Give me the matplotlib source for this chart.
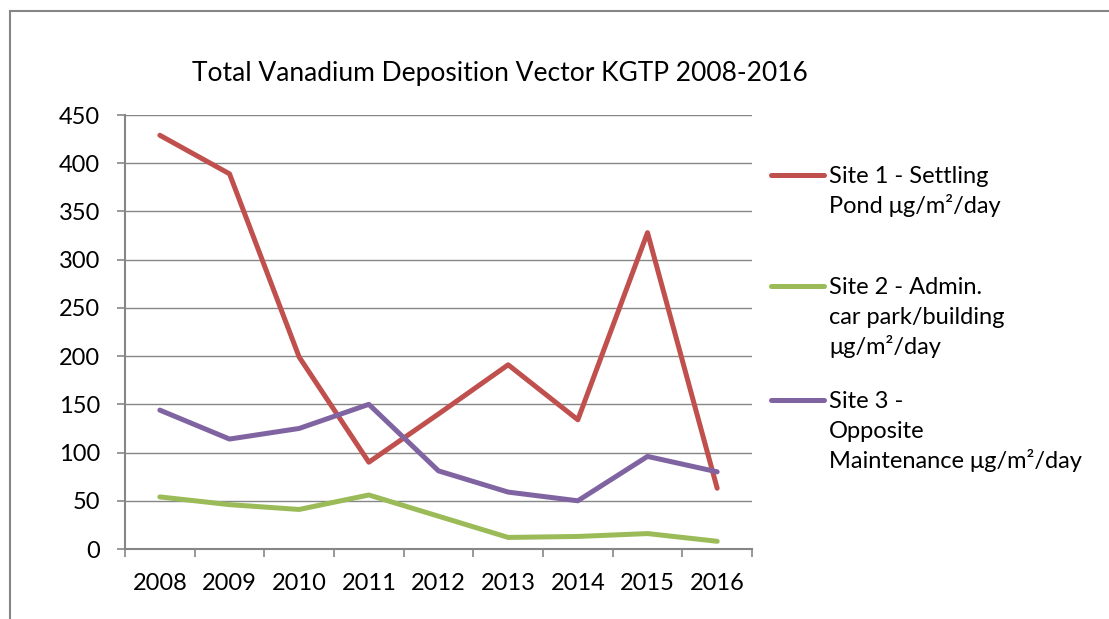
import numpy as np
import matplotlib
matplotlib.use('Agg')
import matplotlib.pyplot as plt
from matplotlib.lines import Line2D
from matplotlib.patches import Rectangle

plt.rcParams['font.family'] = ['Lato', 'DejaVu Sans']

years = ['2008', '2009', '2010', '2011', '2012', '2013', '2014', '2015', '2016']
site1 = [429, 389, 199, 90, 140, 191, 134, 328, 63]
site2 = [54, 46, 41, 56, 34, 12, 13, 16, 8]
site3 = [144, 114, 125, 150, 81, 59, 50, 96, 80]
labels = [['Site 1 - Settling', 'Pond μg/m²/day'],
          ['Site 2 - Admin.', 'car park/building', 'μg/m²/day'],
          ['Site 3 -', 'Opposite', 'Maintenance μg/m²/day']]
colors = ['#C0504D', '#9BBB59', '#8064A2']
title = 'Total Vanadium Deposition Vector KGTP 2008-2016'

W, H = 1109, 619
fig = plt.figure(figsize=(W / 100, H / 100), dpi=100)
ax = fig.add_axes([125 / W, 1 - 549 / H, (752 - 125) / W, (549 - 115) / H])

grey = '#868686'
x = np.arange(len(years))
for vals, col in zip([site1, site2, site3], colors):
    ax.plot(x, vals, color=col, lw=3.6, solid_capstyle='round', solid_joinstyle='round', zorder=3)

ax.set_xlim(-0.5, len(years) - 0.5)
ax.set_ylim(0, 450)
ax.set_yticks(np.arange(0, 451, 50))
ax.set_xticks(x)
ax.set_xticklabels(years)
ax.set_xticks(np.arange(-0.5, len(years)), minor=True)
ax.grid(axis='y', color=grey, lw=1.0, zorder=0)
ax.set_axisbelow(True)
for s in ['top', 'right']:
    ax.spines[s].set_visible(False)
for s in ['left', 'bottom']:
    ax.spines[s].set_color(grey)
    ax.spines[s].set_linewidth(1.5)
ax.tick_params(axis='y', length=6, width=1.2, color=grey, pad=12, labelsize=17)
ax.tick_params(axis='x', which='major', length=0, pad=17, labelsize=17)
ax.tick_params(axis='x', which='minor', length=6, width=1.2, color=grey)

fig.text(500 / W, 1 - 73 / H, title, ha='center', va='center', fontsize=19)

# legend drawn by hand so the key lines up with the first text line
key_y = [175, 286, 400]
for lab, col, ky in zip(labels, colors, key_y):
    fig.add_artist(Line2D([771 / W, 824 / W], [1 - ky / H, 1 - ky / H],
                          transform=fig.transFigure, color=col, lw=3.6,
                          solid_capstyle='round'))
    for i, line in enumerate(lab):
        fig.text(829 / W, 1 - (ky + 8 + 30 * i) / H, line, ha='left',
                 va='baseline', fontsize=17)

# chart frame (only left and top edges fall inside the picture)
fig.add_artist(Rectangle((10 / W, -0.2), 1.2, (1 - 11 / H) + 0.2,
                         transform=fig.transFigure, fill=False, ec=grey, lw=1.5))

fig.savefig('out.png', dpi=100)
